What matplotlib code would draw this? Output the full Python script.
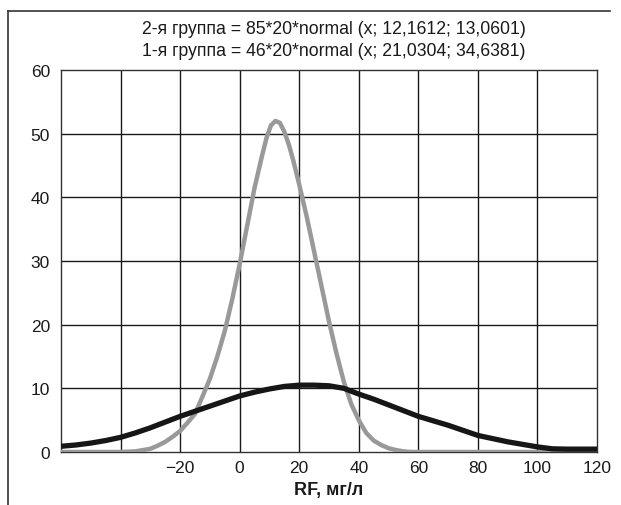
import matplotlib
matplotlib.use("Agg")
import matplotlib.pyplot as plt
from matplotlib.lines import Line2D

plt.rcParams['font.family'] = ['Liberation Sans', 'DejaVu Sans']

title_lines = ["2-я группа = 85*20*normal (x; 12,1612; 13,0601)",
               "1-я группа = 46*20*normal (x; 21,0304; 34,6381)"]
x_label = "RF, мг/л"

# Group 2 (gray) values
g2_x = [-60, -40, -35, -30, -27.5, -25, -22.5, -20, -17.5, -15, -12.5, -10, -7.5, -5, -2.5,
        0, 2.5, 5, 7.5, 9, 10.5, 12, 13.5, 15, 16.5, 18, 20, 22.5, 25, 27.5, 30, 32.5, 35, 37.5,
        40, 42.5, 45, 47.5, 50, 52.5, 55, 57.5, 120]
g2_y = [0, 0, 0.1, 0.5, 1.0, 1.6, 2.4, 3.3, 4.6, 6.0, 8.7, 11.5, 15.0, 19.0, 24.0,
        29.5, 35.5, 41.5, 46.5, 49.3, 51.3, 52.0, 51.7, 50.3, 48.3, 45.8, 42.0, 37.0, 31.5, 26.0, 20.5, 15.5,
        11.0, 7.5, 5.0, 3.0, 1.8, 1.1, 0.6, 0.3, 0.1, 0, 0]

# Group 1 (black) values
g1_x = [-60, -55, -50, -45, -40, -35, -30, -25, -20, -15, -10, -5, 0, 5, 10, 15, 20, 25,
        30, 35, 40, 45, 50, 55, 60, 65, 70, 75, 80, 85, 90, 95, 100, 105, 110, 115, 120]
g1_y = [0.9, 1.1, 1.4, 1.8, 2.3, 3.0, 3.8, 4.7, 5.6, 6.4, 7.2, 8.0, 8.8, 9.4, 9.9, 10.3, 10.5, 10.5,
        10.4, 10.0, 9.1, 8.3, 7.4, 6.5, 5.6, 4.9, 4.2, 3.4, 2.6, 2.1, 1.6, 1.2, 0.8, 0.5, 0.45, 0.45, 0.45]

x_ticks = [-20, 0, 20, 40, 60, 80, 100, 120]
x_grid = [-40, -20, 0, 20, 40, 60, 80, 100]
y_ticks = [0, 10, 20, 30, 40, 50, 60]

W, H = 621, 506
fig = plt.figure(figsize=(W / 100, H / 100), dpi=100)
ax = fig.add_axes([61 / W, 1 - 453 / H, (597 - 61) / W, (453 - 71) / H])

ax.set_xlim(-60, 120)
ax.set_ylim(0, 60)

for gx in x_grid:
    ax.axvline(gx, color='#1a1a1a', lw=1.0, zorder=1)
for gy in y_ticks[1:-1]:
    ax.axhline(gy, color='#1a1a1a', lw=1.0, zorder=1)

ax.plot(g2_x, g2_y, color='#999999', lw=3.2, zorder=3, solid_joinstyle='round')
ax.plot(g1_x, g1_y, color='#161616', lw=3.8, zorder=4, solid_joinstyle='round')

ax.set_xticks(x_ticks)
ax.set_xticklabels(['\u221220'] + [str(v) for v in x_ticks[1:]])
ax.set_yticks(y_ticks)
ax.tick_params(length=0, labelsize=12.5, colors='#1a1a1a', pad=6)
ax.tick_params(axis='y', pad=8)
for s in ax.spines.values():
    s.set_color('#333333')
    s.set_linewidth(1.0)

fig.text(329 / W, 1 - 491 / H, x_label, ha='center', va='center', fontsize=13,
         fontweight='bold', color='#1a1a1a')
fig.text(334 / W, 1 - 30 / H, title_lines[0], ha='center', va='center', fontsize=12.7,
         color='#1a1a1a')
fig.text(334 / W, 1 - 52 / H, title_lines[1], ha='center', va='center', fontsize=12.7,
         color='#1a1a1a')

# Outer frame
fig.add_artist(Line2D([8 / W, 8 / W], [0, 1 - 12 / H], transform=fig.transFigure,
                      color='#333333', lw=1.2))
fig.add_artist(Line2D([8 / W, 610 / W], [1 - 12 / H, 1 - 12 / H], transform=fig.transFigure,
                      color='#333333', lw=1.2))

fig.savefig('out.png', dpi=100)
